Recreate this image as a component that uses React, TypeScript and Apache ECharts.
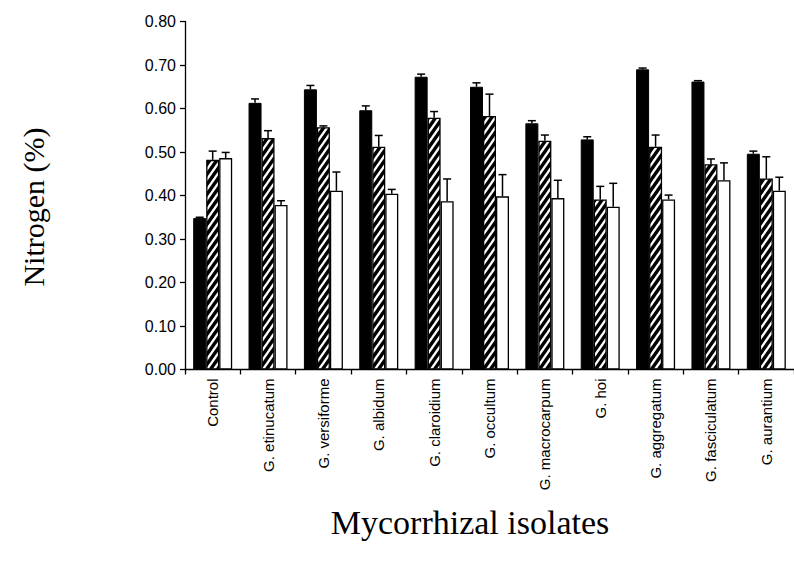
import React, { useEffect, useRef } from "react";
import * as echarts from "echarts";

const categories = [
  "Control",
  "G. etinucatum",
  "G. versiforme",
  "G. albidum",
  "G. claroidium",
  "G. occultum",
  "G. macrocarpum",
  "G. hoi",
  "G. aggregatum",
  "G. fasciculatum",
  "G. aurantium",
];

const blackValues = [0.348, 0.613, 0.644, 0.596, 0.673, 0.65, 0.566, 0.529, 0.69, 0.662, 0.496];
const blackErrors = [0.002, 0.009, 0.009, 0.01, 0.006, 0.009, 0.006, 0.006, 0.003, 0.002, 0.006];
const hatchValues = [0.482, 0.532, 0.557, 0.512, 0.579, 0.583, 0.526, 0.391, 0.512, 0.472, 0.439];
const hatchErrors = [0.02, 0.017, 0.003, 0.026, 0.014, 0.05, 0.013, 0.03, 0.027, 0.012, 0.05];
const whiteValues = [0.486, 0.378, 0.411, 0.404, 0.387, 0.398, 0.394, 0.374, 0.391, 0.435, 0.411];
const whiteErrors = [0.013, 0.01, 0.043, 0.01, 0.051, 0.05, 0.041, 0.054, 0.01, 0.04, 0.031];

const yTicks = { min: 0, max: 0.8, interval: 0.1 };
const yTitle = "Nitrogen (%)";
const xTitle = "Mycorrhizal isolates";

const BAR_W = 13;

function makeHatch(): HTMLCanvasElement {
  const w = 7;
  const h = 10;
  const c = document.createElement("canvas");
  c.width = w;
  c.height = h;
  const ctx = c.getContext("2d")!;
  ctx.fillStyle = "#ffffff";
  ctx.fillRect(0, 0, w, h);
  ctx.strokeStyle = "#000000";
  ctx.lineWidth = 3.4;
  for (let n = -1; n <= 2; n++) {
    ctx.beginPath();
    ctx.moveTo(-w, n * h + h);
    ctx.lineTo(2 * w, n * h - 2 * h);
    ctx.stroke();
  }
  return c;
}

function errSeries(values: number[], errors: number[], offset: number) {
  return {
    type: "custom",
    z: 5,
    silent: true,
    encode: { x: 0, y: 1 },
    data: values.map((v, i) => [i, v, errors[i]]),
    renderItem: (_params: any, api: any) => {
      const x = api.value(0);
      const v = api.value(1);
      const e = api.value(2);
      const base = api.coord([x, v]);
      const top = api.coord([x, v + e]);
      const cx = base[0] + offset;
      return {
        type: "group",
        children: [
          {
            type: "line",
            shape: { x1: cx, y1: base[1], x2: cx, y2: top[1] },
            style: { stroke: "#000", lineWidth: 1.5 },
          },
          {
            type: "line",
            shape: { x1: cx - 4, y1: top[1], x2: cx + 4, y2: top[1] },
            style: { stroke: "#000", lineWidth: 1.5 },
          },
        ],
      };
    },
  };
}

export default function App() {
  const ref = useRef<HTMLDivElement>(null);
  useEffect(() => {
    if (!ref.current) return;
    const chart = echarts.init(ref.current, undefined, { renderer: "svg" });
    const hatch = makeHatch();
    const sansFont = "'Liberation Sans', Arial, sans-serif";
    const serifFont = "'Liberation Serif', 'Times New Roman', serif";
    chart.setOption({
      animation: false,
      backgroundColor: "#ffffff",
      grid: { left: 185, top: 21.5, right: 0, bottom: 193.5, containLabel: false },
      xAxis: {
        type: "category",
        data: categories,
        axisLine: { lineStyle: { color: "#000", width: 1.3 } },
        axisTick: { show: true, length: 5, alignWithLabel: false, lineStyle: { color: "#000", width: 1.3 } },
        axisLabel: {
          rotate: 90,
          interval: 0,
          margin: 9,
          color: "#000",
          fontSize: 15,
          fontFamily: sansFont,
        },
        splitLine: { show: false },
      },
      yAxis: {
        type: "value",
        min: yTicks.min,
        max: yTicks.max,
        interval: yTicks.interval,
        axisLine: { show: true, lineStyle: { color: "#000", width: 1.3 } },
        axisTick: { show: true, length: 5, lineStyle: { color: "#000", width: 1.3 } },
        axisLabel: {
          color: "#000",
          fontSize: 16,
          fontFamily: sansFont,
          margin: 9,
          formatter: (v: number) => v.toFixed(2),
        },
        splitLine: { show: false },
      },
      graphic: [
        {
          type: "text",
          x: 470,
          y: 522,
          style: {
            text: xTitle,
            fill: "#000",
            font: "34px " + serifFont,
            textAlign: "center",
            textVerticalAlign: "middle",
          },
        },
        {
          type: "text",
          x: 33,
          y: 207,
          rotation: Math.PI / 2,
          style: {
            text: yTitle,
            fill: "#000",
            font: "30px " + serifFont,
            textAlign: "center",
            textVerticalAlign: "middle",
          },
        },
      ],
      series: [
        {
          type: "bar",
          name: "A",
          data: blackValues,
          barWidth: BAR_W,
          barGap: "0%",
          itemStyle: { color: "#000", borderColor: "#000", borderWidth: 1 },
        },
        {
          type: "bar",
          name: "B",
          data: hatchValues,
          barWidth: BAR_W,
          barGap: "0%",
          itemStyle: {
            color: { image: hatch, repeat: "repeat" },
            borderColor: "#000",
            borderWidth: 1.3,
          },
        },
        {
          type: "bar",
          name: "C",
          data: whiteValues,
          barWidth: BAR_W,
          barGap: "0%",
          itemStyle: { color: "#fff", borderColor: "#000", borderWidth: 1.3 },
        },
        errSeries(blackValues, blackErrors, -BAR_W),
        errSeries(hatchValues, hatchErrors, 0),
        errSeries(whiteValues, whiteErrors, BAR_W),
      ],
    });
    return () => chart.dispose();
  }, []);
  return (
    <div
      ref={ref}
      style={{ position: "absolute", left: 0, top: 0, width: 794, height: 563 }}
    />
  );
}
